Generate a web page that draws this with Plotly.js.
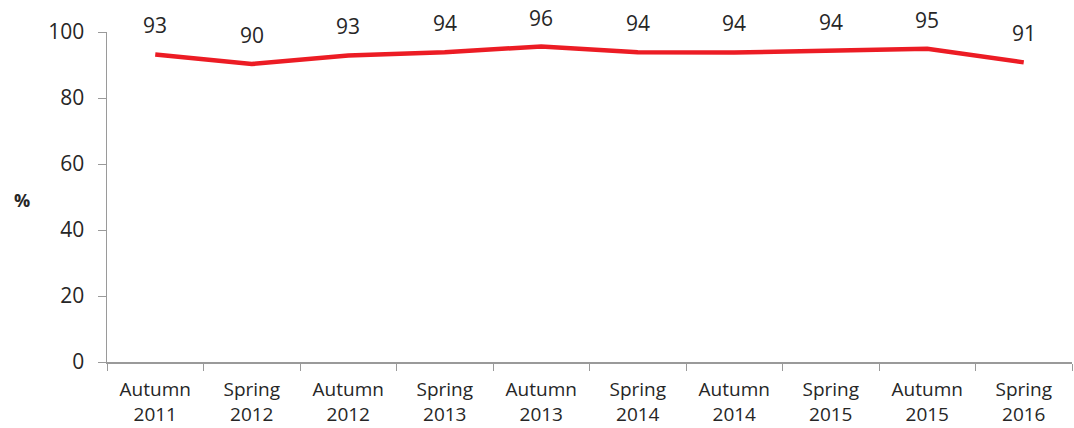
<!DOCTYPE html>
<html><head><meta charset="utf-8">
<script src="https://cdn.plot.ly/plotly-3.0.1.min.js"></script>
<style>html,body{margin:0;padding:0;background:#fff}#chart{width:1074px;height:428px}</style>
</head><body><div id="chart"></div>
<script>
const categories = ["Autumn<br>2011","Spring<br>2012","Autumn<br>2012","Spring<br>2013","Autumn<br>2013","Spring<br>2014","Autumn<br>2014","Spring<br>2015","Autumn<br>2015","Spring<br>2016"];
const values = [93.2, 90.3, 92.9, 93.9, 95.6, 93.9, 93.8, 94.2, 94.9, 90.8];
const labels = ["93","90","93","94","96","94","94","94","95","91"];
const yTicks = [0,20,40,60,80,100];

const font = "Open Sans, Liberation Sans, sans-serif";
const trace = {
  x: categories, y: values, type: 'scatter', mode: 'lines',
  line: {color: '#ec1c24', width: 4.5}, hoverinfo: 'skip'
};
const annotations = categories.map((c,i)=>({
  x: c, y: values[i], text: labels[i], showarrow: false,
  yshift: 29, font: {family: font, size: 21, color: '#262626'}
}));
annotations.push({
  xref: 'paper', yref: 'paper', x: -0.088, y: 0.49, xanchor: 'center', yanchor: 'middle',
  text: '<b>%</b>', showarrow: false, font: {family: font, size: 18, color: '#262626'}
});
const layout = {
  width: 1074, height: 428,
  margin: {l: 107, r: 2, t: 32, b: 66},
  paper_bgcolor: '#fff', plot_bgcolor: '#fff',
  showlegend: false,
  xaxis: {
    type: 'category', range: [-0.5, 9.5], tickson: 'boundaries',
    ticks: 'outside', ticklen: 7, tickcolor: '#9a9a9a',
    showline: true, linecolor: '#9a9a9a', linewidth: 1.5,
    showgrid: false, zeroline: false, ticklabelstandoff: 10,
    tickfont: {family: font, size: 19, color: '#262626'}
  },
  yaxis: {
    range: [0, 100], tickvals: yTicks, ticktext: yTicks.map(String),
    ticks: 'outside', ticklen: 8, tickcolor: '#9a9a9a',
    showline: true, linecolor: '#9a9a9a', linewidth: 1.5,
    showgrid: false, zeroline: false, ticklabelstandoff: 9,
    tickfont: {family: font, size: 21, color: '#262626'}
  },
  annotations: annotations
};
Plotly.newPlot('chart', [trace], layout, {displayModeBar: false, staticPlot: true});
</script></body></html>
